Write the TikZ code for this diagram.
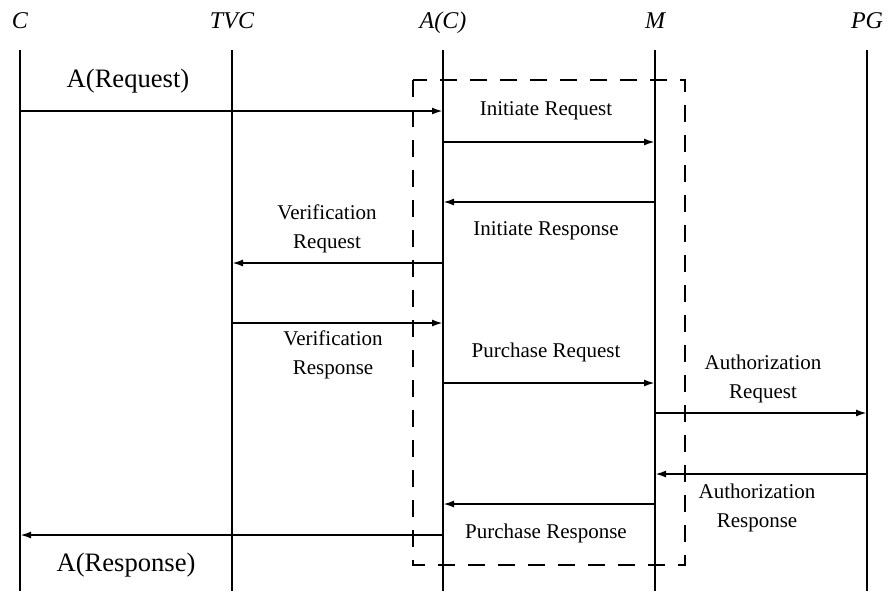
\documentclass[tikz,border=0pt]{standalone}
\usepackage{fontspec}
\setmainfont{Liberation Serif}
\usetikzlibrary{arrows.meta}
\begin{document}
\begin{tikzpicture}[x=0.5pt, y=-0.5pt,
		every node/.style={text=black, inner sep=1pt, align=center, font=\fontsize{10.5}{14.5}\selectfont},
		head/.style={anchor=base, font=\fontsize{12}{14}\selectfont\itshape},
		big/.style={anchor=base, font=\fontsize{13.3}{16}\selectfont},
		life/.style={line width=1pt},
		msg/.style={line width=1pt, -{Latex[length=5.5pt,width=3.5pt]}}]
		\useasboundingbox (0,0) rectangle (888,591);
		% lifelines
		\node[head] (C) at (20,28) {C};
		\node[head] (TVC) at (232,28) {TVC};
		\node[head] (AC) at (443,28) {A(C)};
		\node[head] (M) at (655,28) {M};
		\node[head] (PG) at (867,28) {PG};
		\coordinate (Ct) at (20,50);   \coordinate (Cb) at (20,591);
		\coordinate (TVCt) at (232,50); \coordinate (TVCb) at (232,591);
		\coordinate (ACt) at (443,50);  \coordinate (ACb) at (443,591);
		\coordinate (Mt) at (655,50);   \coordinate (Mb) at (655,591);
		\coordinate (PGt) at (867,50);  \coordinate (PGb) at (867,591);
		\draw[life] (Ct) -- (Cb);
		\draw[life] (TVCt) -- (TVCb);
		\draw[life] (ACt) -- (ACb);
		\draw[life] (Mt) -- (Mb);
		\draw[life] (PGt) -- (PGb);
		% dashed box
		\draw[line width=1pt, dash pattern=on 8.5pt off 6.5pt] (413,80) rectangle (685,565);
		% messages
		\node[big] (areq) at (128,87) {A(Request)};
		\coordinate (c1) at (20,111);  \coordinate (a1) at (443,111);
		\draw[msg] (c1) -- (a1);
		\node (ireq) at (546,111) {Initiate Request};
		\coordinate (a2) at (443,142); \coordinate (m2) at (655,142);
		\draw[msg] (a2) -- (m2);
		\node (iresp) at (546,231) {Initiate Response};
		\coordinate (m3) at (655,202); \coordinate (a3) at (443,202);
		\draw[msg] (m3) -- (a3);
		\node (vreq) at (327,229) {Verification\\Request};
		\coordinate (a4) at (443,263); \coordinate (t4) at (232,263);
		\draw[msg] (a4) -- (t4);
		\node (vresp) at (333,355) {Verification\\Response};
		\coordinate (t5) at (232,323); \coordinate (a5) at (443,323);
		\draw[msg] (t5) -- (a5);
		\node (preq) at (546,352) {Purchase Request};
		\coordinate (a6) at (443,383); \coordinate (m6) at (655,383);
		\draw[msg] (a6) -- (m6);
		\node (aureq) at (763,379) {Authorization\\Request};
		\coordinate (m7) at (655,413); \coordinate (p7) at (867,413);
		\draw[msg] (m7) -- (p7);
		\node (auresp) at (757,508) {Authorization\\Response};
		\coordinate (p8) at (867,474); \coordinate (m8) at (655,474);
		\draw[msg] (p8) -- (m8);
		\coordinate (m9) at (655,504); \coordinate (a9) at (443,504);
		\draw[msg] (m9) -- (a9);
		\node (presp) at (546,533) {Purchase Response};
		\coordinate (a10) at (443,535); \coordinate (c10) at (20,535);
		\draw[msg] (a10) -- (c10);
		\node[big] (aresp) at (126,571) {A(Response)};
	\end{tikzpicture}
\end{document}
